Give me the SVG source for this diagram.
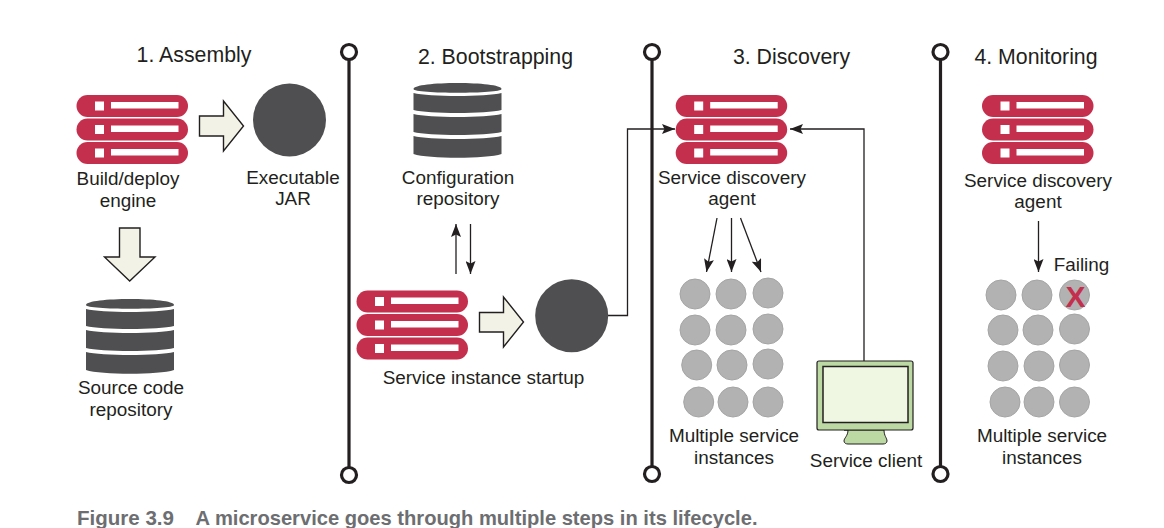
<svg xmlns="http://www.w3.org/2000/svg" width="1164" height="528" viewBox="0 0 1164 528">
<style>
text{font-family:"Liberation Sans",Arial,sans-serif;font-size:18.900px;fill:#231f20;text-anchor:middle}
.h{font-size:21.300px}
.cap{font-weight:bold;font-size:21px;fill:#6d6e71;text-anchor:start}
.x{font-weight:bold;font-size:30px;fill:#c42f4d}
.rail{stroke:#231f20;stroke-width:3.200;fill:none}
.end{stroke:#231f20;stroke-width:3.200;fill:#fff}
.block{fill:#f2f3e6;stroke:#231f20;stroke-width:1.400}
.dark{fill:#4f4e50}
.inst{fill:#b2b2b2;stroke:#a5a5a5;stroke-width:1}
.wire{stroke:#231f20;stroke-width:1.300;fill:none}
.wa{marker-end:url(#ah)}
</style>
<defs>
<marker id="ah" markerUnits="userSpaceOnUse" markerWidth="14" markerHeight="10" refX="13" refY="5" orient="auto">
<path d="M0,0L13,5L0,10L2.500,5Z" fill="#231f20"/>
</marker>
<g id="srow">
<rect width="111.500" height="22" rx="11" fill="#c42f4d"/>
<rect x="18.500" y="6.500" width="9" height="9" fill="#fff"/>
<rect x="34.500" y="7" width="67.500" height="6.500" fill="#fff"/>
</g>
<g id="server">
<use href="#srow"/>
<use href="#srow" y="23.500"/>
<use href="#srow" y="47"/>
</g>
<g id="db">
<path class="dark" d="M0,6C0,-2 88,-2 88,6C88,11 0,11 0,6Z"/>
<path class="dark" d="M0,10C15,14 73,14 88,10V27C73,31 15,31 0,27Z"/>
<path class="dark" d="M0,31C15,35 73,35 88,31V49C73,53 15,53 0,49Z"/>
<path class="dark" d="M0,53C15,57 73,57 88,53V71C73,76 15,76 0,71Z"/>
</g>
</defs>

<g id="connectors">
<path class="wire wa" d="M608,315.500H627.500V129H675"/>
<path class="wire wa" d="M864,361V129H790"/>
<path class="wire wa" d="M456,274V224"/>
<path class="wire wa" d="M470.500,224V274"/>
<path class="wire wa" d="M717,218L706.500,272"/>
<path class="wire wa" d="M731.500,218V272"/>
<path class="wire wa" d="M740.500,218L761,272"/>
<path class="wire wa" d="M1038.500,221V272"/>
</g>

<g id="rail-1"><path class="rail" d="M349,60V467"/><circle class="end" cx="349" cy="52" r="7.500"/><circle class="end" cx="349" cy="475" r="7.500"/></g>
<g id="rail-2"><path class="rail" d="M652,60V466"/><circle class="end" cx="652" cy="52" r="7.500"/><circle class="end" cx="652" cy="474" r="7.500"/></g>
<g id="rail-3"><path class="rail" d="M940.500,60V466"/><circle class="end" cx="940.500" cy="52" r="7.500"/><circle class="end" cx="940.500" cy="474" r="7.500"/></g>

<g id="assembly-title"><text class="h" x="194" y="62">1. Assembly</text></g>
<g id="build-engine"><use href="#server" x="76.500" y="95"/><text x="128" y="185">Build/deploy</text><text x="128" y="207">engine</text></g>
<path class="block" id="arrow-build-jar" d="M199.500,116H223.500V101L243.500,126L223.500,151V136H199.500Z"/>
<g id="jar"><circle class="dark" cx="289.500" cy="120" r="36.500"/><text x="293" y="184">Executable</text><text x="293" y="205">JAR</text></g>
<path class="block" id="arrow-build-source" d="M119.500,228H140V257H155L129.700,281L104.500,257H119.500Z"/>
<g id="source-repo"><use href="#db" x="86" y="299"/><text x="131" y="394">Source code</text><text x="131" y="416">repository</text></g>

<g id="bootstrapping-title"><text class="h" x="495.500" y="64">2. Bootstrapping</text></g>
<g id="config-repo"><use href="#db" x="413.500" y="83"/><text x="458" y="184">Configuration</text><text x="458" y="205">repository</text></g>
<g id="startup"><use href="#server" x="356.500" y="290.500"/><text x="483.500" y="384">Service instance startup</text></g>
<path class="block" id="arrow-startup" d="M479.500,312.500H503.500V297L523.500,322L503.500,347V332H479.500Z"/>
<circle class="dark" id="instance" cx="571.700" cy="315.700" r="36.500"/>

<g id="discovery-title"><text class="h" x="791.500" y="64">3. Discovery</text></g>
<g id="discovery-agent"><use href="#server" x="675.700" y="95"/><text x="732" y="184">Service discovery</text><text x="732" y="205">agent</text></g>
<g id="discovery-instances">
<circle class="inst" cx="695" cy="294" r="15"/><circle class="inst" cx="731" cy="294" r="15"/><circle class="inst" cx="768" cy="293" r="15"/>
<circle class="inst" cx="695" cy="330" r="15"/><circle class="inst" cx="731" cy="330" r="15"/><circle class="inst" cx="768" cy="329" r="15"/>
<circle class="inst" cx="696.700" cy="365" r="15"/><circle class="inst" cx="732" cy="365" r="15"/><circle class="inst" cx="768" cy="364" r="15"/>
<circle class="inst" cx="698.700" cy="402" r="15"/><circle class="inst" cx="733" cy="402" r="15"/><circle class="inst" cx="768" cy="402" r="15"/>
<text x="734" y="442">Multiple service</text><text x="734" y="464">instances</text>
</g>
<g id="service-client">
<path d="M844,430H884C884,436 887,438 887,441C887,443 885,444 883,444H848C846,444 844,443 844,441C844,438 848,436 848,430Z" fill="#bcd9a3" stroke="#231f20" stroke-width="1"/>
<rect x="817" y="361" width="96" height="69" rx="2" fill="#bcd9a3" stroke="#231f20" stroke-width="1.200"/>
<rect x="823" y="366.500" width="85" height="56" fill="#eff6e2" stroke="#231f20" stroke-width="1.500"/>
<text x="866" y="467">Service client</text>
</g>

<g id="monitoring-title"><text class="h" x="1036" y="64">4. Monitoring</text></g>
<g id="monitoring-agent"><use href="#server" x="982" y="95"/><text x="1038" y="187">Service discovery</text><text x="1038" y="208">agent</text></g>
<g id="monitoring-instances">
<circle class="inst" cx="1001" cy="295" r="15"/><circle class="inst" cx="1037" cy="295" r="15"/><circle class="inst" cx="1074.500" cy="295" r="15"/>
<text class="x" x="1075.500" y="306.500">X</text>
<circle class="inst" cx="1003" cy="330" r="15"/><circle class="inst" cx="1038" cy="330" r="15"/><circle class="inst" cx="1074.500" cy="329" r="15"/>
<circle class="inst" cx="1003" cy="366" r="15"/><circle class="inst" cx="1039" cy="366" r="15"/><circle class="inst" cx="1074.500" cy="365" r="15"/>
<circle class="inst" cx="1005" cy="402" r="15"/><circle class="inst" cx="1039" cy="402" r="15"/><circle class="inst" cx="1074.500" cy="402" r="15"/>
<text x="1081.500" y="271">Failing</text>
<text x="1042" y="442">Multiple service</text><text x="1042" y="464">instances</text>
</g>

<g id="caption">
<text class="cap" x="77" y="524.500" textLength="97" lengthAdjust="spacingAndGlyphs">Figure 3.9</text>
<text class="cap" x="195.500" y="524.500" textLength="562" lengthAdjust="spacingAndGlyphs">A microservice goes through multiple steps in its lifecycle.</text>
</g>
</svg>
